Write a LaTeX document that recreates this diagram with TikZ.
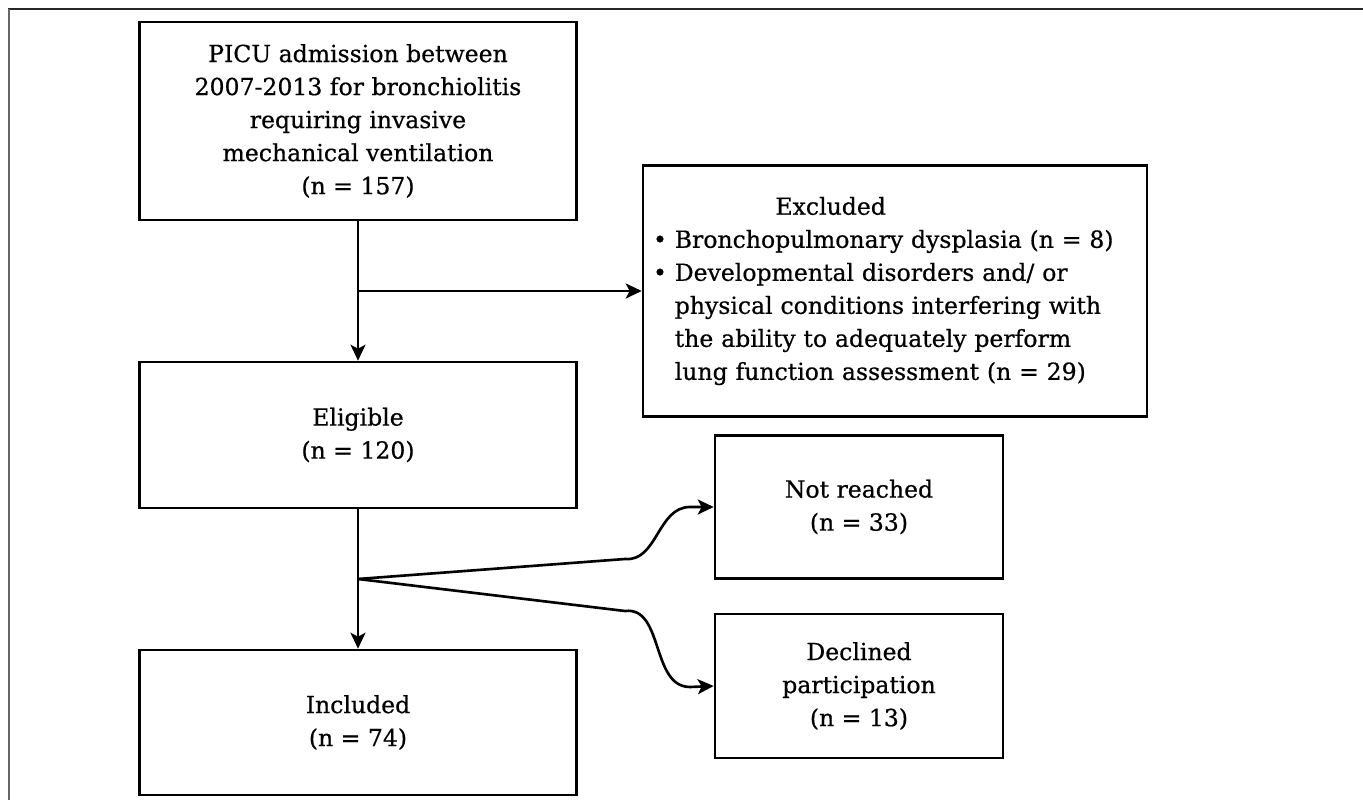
\documentclass[tikz,border=0pt]{standalone}
\usepackage{fontspec}
\setmainfont[FakeBold=0.6]{DejaVu Serif}
\usepackage{tikz}
\usetikzlibrary{arrows.meta}

\tikzset{
    flowbox/.style={draw, line width=1.5pt, align=center, inner sep=0pt,
        font=\fontsize{13.4pt}{18.8pt}\selectfont},
    flowline/.style={line width=1.5pt, -{Stealth[length=0.32cm,width=0.3cm,inset=0.08cm]}},
    frameline/.style={line width=1.2pt}
}

\begin{document}
\begin{tikzpicture}[x=0.02cm, y=-0.02cm]
    \useasboundingbox (0,0) rectangle (1363,800);
    \draw[frameline, black!85] (8,9) -- (1363,9);
    \draw[frameline, black!60] (9,9) -- (9,800);

    \node[flowbox, minimum width=8.74cm, minimum height=3.96cm] (picu) at (358,121)
        {PICU admission between\\ 2007-2013 for bronchiolitis\\ requiring invasive\\ mechanical ventilation\\ (n = 157)};
    \node[flowbox, minimum width=8.74cm, minimum height=2.92cm] (elig) at (358,435)
        {Eligible\\ (n = 120)};
    \node[flowbox, minimum width=8.74cm, minimum height=2.9cm] (incl) at (358,722.5)
        {Included\\ (n = 74)};
    \node[flowbox, minimum width=10.08cm, minimum height=5.02cm, align=left,
        text width=9.68cm, inner xsep=0.2cm] (excl) at (895,291)
        {\hspace*{5.2em}Excluded\\
         \textbullet\ Bronchopulmonary dysplasia (n = 8)\\
         \textbullet\ Developmental disorders and/ or\\
         \phantom{\textbullet}\ physical conditions interfering with\\
         \phantom{\textbullet}\ the ability to adequately perform\\
         \phantom{\textbullet}\ lung function assessment (n = 29)};
    \node[flowbox, minimum width=5.76cm, minimum height=2.86cm] (nreach) at (859,507)
        {Not reached\\ (n = 33)};
    \node[flowbox, minimum width=5.76cm, minimum height=2.88cm] (decl) at (859,686)
        {Declined\\ participation\\ (n = 13)};

    \coordinate (split1) at (358,291);
    \coordinate (split2) at (358,579);

    \draw[flowline] (picu) -- (elig);
    \draw[flowline] (split1) -- (excl.west);
    \draw[flowline] (elig) -- (incl);
    \draw[flowline] (split2) -- (625,559) to[out=-5, in=180] (690,507) -- (nreach.west);
    \draw[flowline] (split2) -- (625,611) to[out=7, in=180] (690,687) -- (decl.west);
\end{tikzpicture}
\end{document}
